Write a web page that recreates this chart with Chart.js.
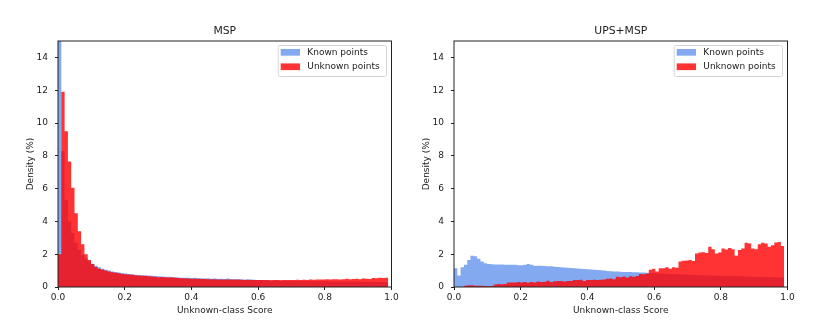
<!DOCTYPE html>
<html>
<head>
<meta charset="utf-8">
<script src="https://cdn.jsdelivr.net/npm/chart.js@4.4.1/dist/chart.umd.min.js"></script>
<style>
body { margin: 0; background: #fff; width: 831px; height: 324px; overflow: hidden; position: relative; }
canvas { position: absolute; top: 0; }
#mspChart { left: 0; }
#upsChart { left: 396px; }
</style>
</head>
<body>
<canvas id="mspChart" width="415" height="324"></canvas>
<canvas id="upsChart" width="415" height="324"></canvas>
<script>
// histogram bins: 100 bins over the score range
const binCount = 100;
const binMax = 0.99;
const seriesNames = ["Known points", "Unknown points"];
const xTicks = [0, 0.2, 0.4, 0.6, 0.8, 1.0];
const yTicks = [0, 2, 4, 6, 8, 10, 12, 14];

// density (%) per bin
const mspKnown = [
  30, 8.3, 5.3, 4.0, 3.3, 2.7, 2.25, 1.95, 1.75, 1.55,
  1.42, 1.3, 1.2, 1.12, 1.05, 1.0, 0.95, 0.92, 0.88, 0.85,
  0.82, 0.8, 0.77, 0.75, 0.73, 0.72, 0.7, 0.7, 0.68, 0.67,
  0.65, 0.64, 0.62, 0.62, 0.6, 0.6, 0.58, 0.57, 0.57, 0.56,
  0.55, 0.56, 0.54, 0.53, 0.52, 0.53, 0.51, 0.52, 0.5, 0.5,
  0.49, 0.52, 0.48, 0.49, 0.47, 0.47, 0.46, 0.45, 0.45, 0.44,
  0.43, 0.42, 0.42, 0.41, 0.41, 0.4, 0.4, 0.39, 0.39, 0.38,
  0.38, 0.38, 0.37, 0.37, 0.37, 0.36, 0.36, 0.36, 0.35, 0.35,
  0.35, 0.35, 0.34, 0.34, 0.34, 0.34, 0.33, 0.33, 0.33, 0.33,
  0.33, 0.32, 0.32, 0.32, 0.32, 0.32, 0.31, 0.31, 0.31, 0.31
];
const mspUnknown = [
  2.0, 11.9, 9.5, 7.65, 6.05, 4.5, 3.4, 2.6, 2.0, 1.65,
  1.4, 1.22, 1.12, 1.06, 1.0, 0.95, 0.9, 0.87, 0.84, 0.8,
  0.78, 0.76, 0.74, 0.72, 0.7, 0.68, 0.69, 0.66, 0.64, 0.63,
  0.6, 0.61, 0.59, 0.58, 0.59, 0.56, 0.55, 0.54, 0.54, 0.52,
  0.51, 0.5, 0.51, 0.49, 0.49, 0.48, 0.47, 0.48, 0.46, 0.46,
  0.46, 0.45, 0.45, 0.44, 0.45, 0.44, 0.43, 0.44, 0.43, 0.42,
  0.43, 0.42, 0.43, 0.42, 0.41, 0.43, 0.42, 0.41, 0.43, 0.42,
  0.43, 0.42, 0.44, 0.43, 0.44, 0.43, 0.45, 0.44, 0.46, 0.45,
  0.45, 0.47, 0.46, 0.48, 0.47, 0.46, 0.48, 0.5, 0.47, 0.49,
  0.5, 0.48, 0.52, 0.5, 0.49, 0.55, 0.54, 0.56, 0.55, 0.56
];
const upsKnown = [
  1.15, 0.7, 1.2, 1.35, 1.65, 1.9, 1.87, 1.72, 1.55, 1.45,
  1.4, 1.38, 1.37, 1.37, 1.37, 1.36, 1.36, 1.36, 1.35, 1.33,
  1.32, 1.36, 1.4, 1.35, 1.3, 1.3, 1.29, 1.28, 1.27, 1.26,
  1.24, 1.22, 1.2, 1.19, 1.17, 1.16, 1.14, 1.13, 1.12, 1.1,
  1.08, 1.07, 1.05, 1.03, 1.02, 1.0, 0.98, 0.96, 0.95, 0.94,
  0.93, 0.92, 0.92, 0.91, 0.9, 0.9, 0.89, 0.88, 0.87, 0.86,
  0.85, 0.84, 0.83, 0.82, 0.81, 0.8, 0.79, 0.78, 0.77, 0.76,
  0.76, 0.75, 0.74, 0.73, 0.72, 0.72, 0.71, 0.7, 0.7, 0.69,
  0.68, 0.68, 0.67, 0.67, 0.66, 0.66, 0.65, 0.65, 0.64, 0.64,
  0.63, 0.63, 0.62, 0.62, 0.61, 0.61, 0.6, 0.6, 0.59, 0.58
];
const upsUnknown = [
  0, 0, 0, 0.08, 0.1, 0.1, 0.08, 0.07, 0.08, 0.06,
  0.05, 0.06, 0.15, 0.18, 0.17, 0.18, 0.28, 0.27, 0.28, 0.3,
  0.27, 0.3, 0.26, 0.3, 0.28, 0.33, 0.3, 0.32, 0.38, 0.3,
  0.35, 0.37, 0.36, 0.33, 0.37, 0.36, 0.43, 0.42, 0.44, 0.36,
  0.42, 0.43, 0.44, 0.43, 0.44, 0.46, 0.5, 0.52, 0.48, 0.62,
  0.6, 0.64, 0.58, 0.66, 0.63, 0.67, 0.8, 0.78, 0.82, 1.05,
  1.12, 0.95, 1.15, 1.15, 1.2, 1.12, 1.2, 1.18, 1.55, 1.6,
  1.62, 1.65, 1.58, 2.05, 2.1, 2.12, 2.08, 2.45, 2.3, 2.05,
  2.1, 2.35, 2.28, 2.38, 2.3, 1.9, 2.25, 2.35, 2.7, 2.65,
  2.35, 2.3, 2.6, 2.7, 2.65, 2.45, 2.55, 2.72, 2.75, 2.5
];

const knownColor = "rgba(100, 149, 237, 0.8)";
const unknownColor = "rgba(255, 0, 0, 0.8)";
const font = '"DejaVu Sans", sans-serif';

Chart.defaults.font.family = font;
Chart.defaults.color = "#222";

// step points at bin left edges, plus the closing right edge
function histPoints(vals) {
  const w = binMax / binCount;
  const pts = vals.map((v, k) => ({ x: k * w, y: v }));
  pts.push({ x: vals.length * w, y: vals[vals.length - 1] });
  return pts;
}

// axes box, title and a matplotlib style legend
const decor = {
  id: "decor",
  afterDraw(chart, args, opts) {
    const ctx = chart.ctx;
    const a = chart.chartArea;
    ctx.save();

    ctx.strokeStyle = "#222";
    ctx.lineWidth = 1;
    ctx.strokeRect(a.left, a.top, a.right - a.left, a.bottom - a.top);

    ctx.fillStyle = "#222";
    ctx.font = "10.8px " + font;
    ctx.textAlign = "center";
    ctx.textBaseline = "middle";
    ctx.fillText(opts.title, (a.left + a.right) / 2, 31);

    ctx.font = "9px " + font;
    const sets = chart.data.datasets;
    const textW = Math.max(...sets.map(d => ctx.measureText(d.label).width));
    const w = 3 + 19.3 + 7.3 + textW + 6.4;
    const h = 31;
    const x0 = a.right - 5.5 - w;
    const y0 = a.top + 4;
    ctx.beginPath();
    ctx.roundRect(x0 + 0.5, y0 + 0.5, w, h, 2);
    ctx.fillStyle = "rgba(255,255,255,0.8)";
    ctx.fill();
    ctx.strokeStyle = "#d6d6d6";
    ctx.stroke();

    ctx.textAlign = "left";
    sets.forEach((d, i) => {
      const cy = y0 + 7.3 + i * 14.4;
      ctx.fillStyle = d.backgroundColor;
      ctx.fillRect(x0 + 3, cy - 3.3, 19.3, 6.7);
      ctx.fillStyle = "#222";
      ctx.fillText(d.label, x0 + 3 + 19.3 + 7.3, cy);
    });
    ctx.restore();
  }
};

function makeChart(id, title, known, unknown) {
  return new Chart(id, {
    type: "line",
    data: {
      datasets: [
        {
          label: seriesNames[0],
          data: histPoints(known),
          backgroundColor: knownColor,
          borderColor: "transparent",
          fill: "origin",
          stepped: "before",
          pointRadius: 0,
          order: 1
        },
        {
          label: seriesNames[1],
          data: histPoints(unknown),
          backgroundColor: unknownColor,
          borderColor: "transparent",
          fill: "origin",
          stepped: "before",
          pointRadius: 0,
          order: 0
        }
      ]
    },
    options: {
      responsive: false,
      animation: false,
      layout: { padding: { left: 25.6, right: 23.5, top: 41, bottom: 7.9 } },
      plugins: {
        legend: { display: false },
        tooltip: { enabled: false },
        decor: { title: title }
      },
      scales: {
        x: {
          type: "linear",
          min: 0,
          max: 1,
          afterBuildTicks: s => { s.ticks = xTicks.map(v => ({ value: v })); },
          afterFit: s => { s.height = 29.1; },
          ticks: {
            font: { size: 9 },
            padding: 2.3,
            maxRotation: 0,
            callback: v => v.toFixed(1)
          },
          grid: { drawOnChartArea: false, tickLength: 3, tickColor: "#222" },
          border: { display: false },
          title: {
            display: true,
            text: "Unknown-class Score",
            font: { size: 9 },
            padding: 0
          }
        },
        y: {
          min: 0,
          max: 15,
          afterBuildTicks: s => { s.ticks = yTicks.map(v => ({ value: v })); },
          afterFit: s => { s.width = 32.4; },
          ticks: { font: { size: 9 }, padding: 7 },
          grid: { drawOnChartArea: false, tickLength: 3, tickColor: "#222" },
          border: { display: false },
          title: {
            display: true,
            text: "Density (%)",
            font: { size: 9 },
            padding: 0
          }
        }
      }
    },
    plugins: [decor]
  });
}

makeChart("mspChart", "MSP", mspKnown, mspUnknown);
makeChart("upsChart", "UPS+MSP", upsKnown, upsUnknown);
</script>
</body>
</html>
